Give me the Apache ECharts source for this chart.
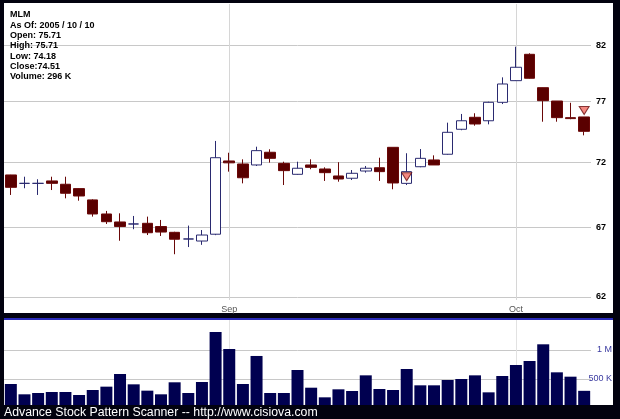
<!DOCTYPE html>
<html>
<head>
<meta charset="utf-8">
<script src="https://cdn.jsdelivr.net/npm/echarts@6/dist/echarts.min.js"></script>
<style>
html,body{margin:0;padding:0;background:#02020f;}
#c{width:620px;height:419px;}
</style>
</head>
<body>
<div id="c"></div>
<script>
// ---- data ----
const dates = [
  '2005-08-10','2005-08-11','2005-08-12','2005-08-15','2005-08-16','2005-08-17','2005-08-18','2005-08-19',
  '2005-08-22','2005-08-23','2005-08-24','2005-08-25','2005-08-26','2005-08-29','2005-08-30','2005-08-31',
  '2005-09-01','2005-09-02','2005-09-06','2005-09-07','2005-09-08','2005-09-09','2005-09-12','2005-09-13',
  '2005-09-14','2005-09-15','2005-09-16','2005-09-19','2005-09-20','2005-09-21','2005-09-22','2005-09-23',
  '2005-09-26','2005-09-27','2005-09-28','2005-09-29','2005-09-30','2005-10-03','2005-10-04','2005-10-05',
  '2005-10-06','2005-10-07','2005-10-10'
];
const openP  = [70.99,70.33,70.33,70.52,70.26,69.92,69.05,67.98,67.38,67.23,67.28,67.04,66.61,66.12,65.97,66.47,
                72.10,71.86,71.78,72.80,71.91,71.04,71.78,71.46,70.91,70.73,71.30,71.56,73.20,70.33,71.64,72.18,
                72.64,74.68,75.68,75.39,76.95,78.82,81.16,78.21,77.06,75.65,75.71];
const closeP = [70.02,70.33,70.33,70.33,69.56,69.35,67.98,67.40,67.04,67.23,66.58,66.63,66.10,66.12,66.41,72.36,
                71.95,70.77,72.93,72.31,71.33,71.52,71.59,71.17,70.67,71.12,71.52,71.25,70.36,71.25,72.31,71.78,
                74.43,75.39,75.12,76.95,78.53,80.00,79.03,77.09,75.65,75.57,74.51];
const highP  = [71.00,70.85,70.65,70.85,70.85,69.95,69.10,68.21,68.03,67.83,67.78,67.53,66.65,67.11,66.78,73.72,
                72.76,72.23,73.25,73.04,72.04,72.04,72.23,71.59,72.00,71.38,71.70,72.36,73.20,72.72,73.06,72.55,
                75.23,75.96,76.02,77.00,79.11,81.85,81.25,78.20,77.06,76.91,75.71];
const lowP   = [69.43,69.95,69.43,69.81,69.17,68.99,67.78,67.23,65.99,66.84,66.41,66.34,65.01,65.53,65.69,66.40,
                71.25,70.33,71.70,71.97,70.20,71.00,71.44,70.52,70.46,70.59,71.17,70.52,69.87,70.20,71.60,71.78,
                72.60,74.60,74.98,75.09,76.80,78.80,79.00,75.31,75.31,75.52,74.18];
const volumeK = [414,236,259,276,276,224,310,368,586,408,299,236,443,259,448,1310,
                 1017,414,897,259,259,655,350,184,322,293,563,328,310,672,391,391,
                 483,500,563,270,552,741,810,1098,615,540,296];
const priceTicks = [62,67,72,77,82];
const volumeTicks = [500000,1000000];
const monthMarks = ['2005-09-01','2005-10-03'];
const monthLabels = {'2005-09-01':'Sep','2005-10-03':'Oct'};
const signalIdx = [29,42];
const signalVal = [70.85,76.25];
const infoLines = ['MLM','As Of: 2005 / 10 / 10','Open: 75.71','High: 75.71','Low: 74.18','Close:74.51','Volume: 296 K'];
const footerText = 'Advance Stock Pattern Scanner -- http://www.cisiova.com';

// ---- build ----
const candleData = dates.map((d,i)=>[openP[i],closeP[i],lowP[i],highP[i]]);
const volData = volumeK.map(v=>v*1000);
const signalData = signalIdx.map((k,i)=>[dates[k],signalVal[i]]);

const chart = echarts.init(document.getElementById('c'), null, {renderer:'canvas'});
const FONT = 'Liberation Sans, Arial, sans-serif';

const graphics = [
  {type:'rect', shape:{x:4,y:3,width:609,height:310}, style:{fill:'#ffffff'}, z:-10, silent:true},
  {type:'rect', shape:{x:4,y:318,width:609,height:2}, style:{fill:'#2a2ab8'}, z:-10, silent:true},
  {type:'rect', shape:{x:4,y:320,width:609,height:86}, style:{fill:'#ffffff'}, z:-10, silent:true},
  {type:'rect', shape:{x:0,y:405,width:620,height:14}, style:{fill:'#02020f'}, z:100, silent:true},
  {type:'text', x:4, y:413, style:{text:footerText, fill:'#ffffff', font:'12.3px '+FONT, textVerticalAlign:'middle'}, z:101, silent:true}
];
infoLines.forEach((t,i)=>{
  graphics.push({type:'text', x:10, y:15+i*10.3, style:{text:t, fill:'#000000', font:'bold 9px '+FONT, textVerticalAlign:'middle'}, z:50, silent:true});
});

const option = {
  animation:false,
  backgroundColor:'#02020f',
  graphic:graphics,
  grid:[
    {left:4, top:4, width:587, height:296},
    {left:4, top:320, width:587, height:88}
  ],
  xAxis:[
    {type:'category', gridIndex:0, data:dates,
     axisLine:{show:false}, axisTick:{show:false}, splitLine:{show:false},
     axisLabel:{interval:(i,v)=>!!monthLabels[v], formatter:v=>monthLabels[v]||'', color:'#555555', fontSize:9, fontFamily:FONT, margin:5}},
    {type:'category', gridIndex:1, data:dates,
     axisLine:{show:false}, axisTick:{show:false}, splitLine:{show:false}, axisLabel:{show:false}}
  ],
  yAxis:[
    {type:'log', gridIndex:0, min:61.79, max:85.82,
     axisLine:{show:false}, axisTick:{show:false}, splitLine:{show:false}, axisLabel:{show:false}},
    {type:'value', gridIndex:1, min:0, max:1517000, interval:500000, position:'right',
     axisLine:{show:false}, axisTick:{show:false}, splitLine:{show:false},
     axisLabel:{formatter:v=>v===1000000?'1 M':(v===500000?'500 K':''), color:'#3a3aa0', fontSize:9, fontFamily:FONT, align:'right', margin:21}}
  ],
  series:[
    {type:'candlestick', xAxisIndex:0, yAxisIndex:0, data:candleData, barWidth:11,
     itemStyle:{color:'#ffffff', color0:'#5a0000', borderColor:'#2a2a70', borderColor0:'#6a0808', borderWidth:1},
     markLine:{silent:true, symbol:['none','none'], z:1, animation:false,
       lineStyle:{color:'#c8c8c8', width:1, type:'solid'},
       label:{position:'end', formatter:'{c}', color:'#000000', fontWeight:'bold', fontSize:9, fontFamily:FONT, distance:5},
       data:priceTicks.map(v=>({yAxis:v})).concat(monthMarks.map(m=>({xAxis:m, label:{show:false}, lineStyle:{color:'#d6d6d6'}})))
     }},
    {type:'scatter', xAxisIndex:0, yAxisIndex:0, data:signalData, symbol:'triangle', symbolRotate:180, symbolSize:[10,8],
     itemStyle:{color:'#f06a62', borderColor:'#6a1010', borderWidth:1}, z:5},
    {type:'bar', xAxisIndex:1, yAxisIndex:1, data:volData, barWidth:12,
     itemStyle:{color:'#000050'},
     markLine:{silent:true, symbol:['none','none'], z:1, animation:false,
       lineStyle:{color:'#c8c8c8', width:1, type:'solid'}, label:{show:false},
       data:volumeTicks.map(v=>({yAxis:v})).concat(monthMarks.map(m=>({xAxis:m, lineStyle:{color:'#e2e2e2'}})))
     }}
  ]
};
chart.setOption(option);
</script>
</body>
</html>
